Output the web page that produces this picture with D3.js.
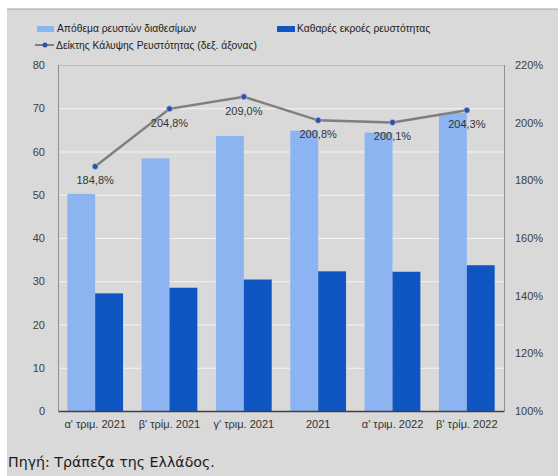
<!DOCTYPE html>
<html>
<head>
<meta charset="utf-8">
<script src="https://cdn.jsdelivr.net/npm/d3@7"></script>
<style>
  html, body { margin: 0; padding: 0; background: #ffffff; }
  svg { display: block; }
</style>
</head>
<body>
<svg id="chart" width="558" height="476"></svg>
<script>
// Categories and series
const categories = ["α' τριμ. 2021", "β' τρίμ. 2021", "γ' τριμ. 2021", "2021", "α' τριμ. 2022", "β' τρίμ. 2022"];
const liquidAssets = [50.2, 58.4, 63.6, 64.8, 64.4, 68.9];     // Απόθεμα ρευστών διαθεσίμων
const netOutflows  = [27.2, 28.5, 30.4, 32.3, 32.2, 33.7];     // Καθαρές εκροές ρευστότητας
const coverageRatio = [184.8, 204.8, 209.0, 200.8, 200.1, 204.3]; // Δείκτης Κάλυψης Ρευστότητας (%)
const leftTicks = [0, 10, 20, 30, 40, 50, 60, 70, 80];
const rightTicks = [100, 120, 140, 160, 180, 200, 220];
const seriesNames = ["Απόθεμα ρευστών διαθεσίμων", "Καθαρές εκροές ρευστότητας", "Δείκτης Κάλυψης Ρευστότητας (δεξ. άξονας)"];
const sourceNote = "Πηγή: Τράπεζα της Ελλάδος.";

const colLight = "#8bb4f1";
const colDark = "#1056c2";
const colLine = "#7f7f7f";
const colDot = "#2f4ea6";
const font = "'Liberation Sans', Arial, sans-serif";

const svg = d3.select("#chart");

// Panel background
svg.append("rect").attr("x", 7).attr("y", 9).attr("width", 551).attr("height", 467).attr("fill", "#d9d9d9");
svg.append("line").attr("x1", 7).attr("x2", 558).attr("y1", 9).attr("y2", 9)
  .attr("stroke", "#9aa5b5").attr("stroke-width", 1.2);

const plot = { left: 58, right: 504, top: 65, bottom: 411 };

const x = d3.scaleBand().domain(categories).range([plot.left, plot.right])
  .paddingInner(0.25).paddingOuter(0.125);
const xSub = d3.scaleBand().domain([0, 1]).range([0, x.bandwidth()]);
const yL = d3.scaleLinear().domain([0, 80]).range([plot.bottom, plot.top]);
const yR = d3.scaleLinear().domain([100, 220]).range([plot.bottom, plot.top]);

// Gridlines
svg.append("g").selectAll("line").data(leftTicks.filter(d => d > 0)).join("line")
  .attr("x1", plot.left).attr("x2", plot.right)
  .attr("y1", d => yL(d) + 0.5).attr("y2", d => yL(d) + 0.5)
  .attr("stroke", d => d === 80 ? "#bdbdbd" : "#f4f4f4").attr("stroke-width", 1);

// Bars
const groups = svg.append("g").selectAll("g").data(categories).join("g")
  .attr("transform", d => `translate(${x(d)},0)`);
groups.append("rect")
  .attr("x", xSub(0)).attr("width", xSub.bandwidth())
  .attr("y", (d, i) => yL(liquidAssets[i]))
  .attr("height", (d, i) => yL(0) - yL(liquidAssets[i]))
  .attr("fill", colLight);
groups.append("rect")
  .attr("x", xSub(1)).attr("width", xSub.bandwidth())
  .attr("y", (d, i) => yL(netOutflows[i]))
  .attr("height", (d, i) => yL(0) - yL(netOutflows[i]))
  .attr("fill", colDark);

// Axes lines
svg.append("line").attr("x1", plot.left + 0.5).attr("x2", plot.left + 0.5)
  .attr("y1", plot.top).attr("y2", plot.bottom).attr("stroke", "#8f8f8f");
svg.append("line").attr("x1", plot.right + 0.5).attr("x2", plot.right + 0.5)
  .attr("y1", plot.top).attr("y2", plot.bottom).attr("stroke", "#8f8f8f");

// Left axis
const axL = svg.append("g").attr("transform", `translate(${plot.left - 13},0)`)
  .call(d3.axisLeft(yL).tickValues(leftTicks).tickSize(0).tickPadding(0));
axL.select(".domain").remove();
axL.selectAll("text").attr("font-family", font).attr("font-size", 11).attr("fill", "#404040");

// Right axis
const axR = svg.append("g").attr("transform", `translate(${plot.right + 11},0)`)
  .call(d3.axisRight(yR).tickValues(rightTicks).tickSize(0).tickPadding(0).tickFormat(d => d + "%"));
axR.select(".domain").remove();
axR.selectAll("text").attr("font-family", font).attr("font-size", 11).attr("fill", "#404040");

// Bottom axis
const axB = svg.append("g").attr("transform", `translate(0,${plot.bottom})`)
  .call(d3.axisBottom(x).tickSize(0).tickPadding(9));
axB.select(".domain").attr("stroke", "#404040").attr("stroke-width", 1.3);
axB.selectAll("text").attr("font-family", font).attr("font-size", 11).attr("fill", "#333");

// Coverage ratio line
const cx = d => x(d) + x.bandwidth() / 2;
const line = d3.line().x((d, i) => cx(categories[i])).y(d => yR(d));
svg.append("path").datum(coverageRatio).attr("d", line)
  .attr("fill", "none").attr("stroke", colLine).attr("stroke-width", 2.5);
svg.append("g").selectAll("circle").data(coverageRatio).join("circle")
  .attr("cx", (d, i) => cx(categories[i])).attr("cy", d => yR(d)).attr("r", 3)
  .attr("fill", colDot).attr("stroke", "#a9bbe0").attr("stroke-width", 0.8);
svg.append("g").selectAll("text").data(coverageRatio).join("text")
  .attr("x", (d, i) => cx(categories[i])).attr("y", d => yR(d) + 18)
  .attr("text-anchor", "middle").attr("font-family", font).attr("font-size", 11)
  .attr("fill", "#333")
  .text(d => d.toFixed(1).replace(".", ",") + "%");

// Legend
const lg = svg.append("g").attr("font-family", font).attr("font-size", 10.3).attr("fill", "#222");
lg.append("rect").attr("x", 37).attr("y", 26).attr("width", 17).attr("height", 6).attr("fill", colLight);
lg.append("text").attr("x", 57).attr("y", 32).text(seriesNames[0]);
lg.append("rect").attr("x", 277).attr("y", 26).attr("width", 18).attr("height", 6).attr("fill", colDark);
lg.append("text").attr("x", 297).attr("y", 32).text(seriesNames[1]);
lg.append("line").attr("x1", 35).attr("x2", 54).attr("y1", 45).attr("y2", 45)
  .attr("stroke", colLine).attr("stroke-width", 2);
lg.append("circle").attr("cx", 45).attr("cy", 45).attr("r", 2.5).attr("fill", colDot);
lg.append("text").attr("x", 56).attr("y", 49).text(seriesNames[2]);

// Source note
svg.append("text").attr("x", 8).attr("y", 467)
  .attr("font-family", "'DejaVu Sans', Verdana, sans-serif").attr("font-size", 14.2)
  .attr("fill", "#1a1a1a").text(sourceNote);
</script>
</body>
</html>
